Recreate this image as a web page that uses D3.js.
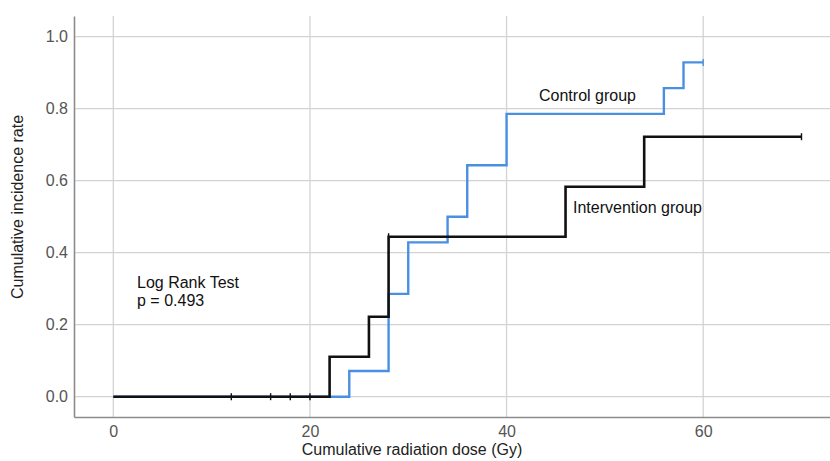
<!DOCTYPE html>
<html>
<head>
<meta charset="utf-8">
<script src="https://cdn.jsdelivr.net/npm/d3@7"></script>
<style>
  html, body { margin: 0; padding: 0; background: #fff; }
  svg { display: block; font-family: "Liberation Sans", Arial, sans-serif; }
</style>
</head>
<body>
<svg id="chart" width="830" height="461"></svg>
<script>
// ---- data ----
const xTicks = [0, 20, 40, 60];
const yTicks = [0.0, 0.2, 0.4, 0.6, 0.8, 1.0];

const controlTimes  = [0, 24, 28, 30, 34, 36, 40, 56, 58];
const controlValues = [0, 0.0714, 0.2857, 0.4286, 0.5, 0.6429, 0.7857, 0.8571, 0.9286];
const controlEnd = 60;
const controlCensored = [60];

const interventionTimes  = [0, 22, 26, 28, 46, 54];
const interventionValues = [0, 0.1111, 0.2222, 0.4444, 0.5833, 0.7222];
const interventionEnd = 70;
const interventionCensored = [12, 16, 18, 20, 28, 70];

const xTitle = "Cumulative radiation dose (Gy)";
const yTitle = "Cumulative incidence rate";
const controlLabel = "Control group";
const interventionLabel = "Intervention group";
const testLines = ["Log Rank Test", "p = 0.493"];

// ---- layout ----
const svg = d3.select("#chart");
const plotL = 74, plotR = 830, plotT = 16, plotB = 417;
const FONT = "Liberation Sans, Arial, sans-serif";

const x = d3.scaleLinear().domain([-4, 72.9]).range([plotL, plotR]);
const y = d3.scaleLinear().domain([-0.0564, 1.0575]).range([plotB, plotT]);

// gridlines
svg.append("g").selectAll("line").data(yTicks).join("line")
  .attr("x1", plotL).attr("x2", plotR)
  .attr("y1", d => y(d)).attr("y2", d => y(d))
  .attr("stroke", "#d3d3d3").attr("stroke-width", 1.3);
svg.append("g").selectAll("line").data(xTicks).join("line")
  .attr("y1", plotT).attr("y2", plotB)
  .attr("x1", d => x(d)).attr("x2", d => x(d))
  .attr("stroke", "#d3d3d3").attr("stroke-width", 1.3);

// axes
const xAxis = d3.axisBottom(x).tickValues(xTicks).tickSize(0).tickPadding(9).tickFormat(d3.format("d"));
const gx = svg.append("g").attr("transform", `translate(0,${plotB})`).call(xAxis);
gx.select(".domain").attr("stroke", "#8c8c8c").attr("stroke-width", 1.6);
gx.selectAll("text").attr("font-size", 16).attr("fill", "#555").attr("font-family", FONT);

const yAxis = d3.axisLeft(y).tickValues(yTicks).tickSize(0).tickPadding(6).tickFormat(d3.format(".1f"));
const gy = svg.append("g").attr("transform", `translate(${plotL},0)`).call(yAxis);
gy.select(".domain").attr("stroke", "#8c8c8c").attr("stroke-width", 1.6);
gy.selectAll("text").attr("font-size", 16).attr("fill", "#555").attr("font-family", FONT);

// axis titles
svg.append("text").attr("x", 412).attr("y", 455)
  .attr("text-anchor", "middle").attr("font-size", 16).attr("fill", "#222").text(xTitle);
svg.append("text").attr("transform", "translate(23,207) rotate(-90)")
  .attr("text-anchor", "middle").attr("font-size", 16).attr("fill", "#222").text(yTitle);

// step curves
function stepPoints(times, values, end) {
  const pts = times.map((t, i) => [t, values[i]]);
  pts.push([end, values[values.length - 1]]);
  return pts;
}
function valueAt(times, values, t) {
  let v = values[0];
  for (let i = 0; i < times.length; i++) if (times[i] <= t) v = values[i];
  return v;
}
const line = d3.line().x(d => x(d[0])).y(d => y(d[1])).curve(d3.curveStepAfter);

function drawCurve(times, values, end, censored, color, width) {
  svg.append("path").datum(stepPoints(times, values, end))
    .attr("d", line).attr("fill", "none")
    .attr("stroke", color).attr("stroke-width", width);
  svg.append("g").selectAll("line").data(censored).join("line")
    .attr("x1", d => x(d)).attr("x2", d => x(d))
    .attr("y1", d => y(valueAt(times, values, d)) - 3.5)
    .attr("y2", d => y(valueAt(times, values, d)) + 3.5)
    .attr("stroke", color).attr("stroke-width", 1.4);
}
drawCurve(controlTimes, controlValues, controlEnd, controlCensored, "#4a90e2", 2.4);
drawCurve(interventionTimes, interventionValues, interventionEnd, interventionCensored, "#111", 2.6);

// labels
svg.append("text").attr("x", 539).attr("y", 101).attr("font-size", 16).attr("fill", "#111").text(controlLabel);
svg.append("text").attr("x", 573).attr("y", 213).attr("font-size", 16).attr("fill", "#111").text(interventionLabel);
svg.append("text").attr("x", 137).attr("y", 288).attr("font-size", 16).attr("fill", "#111")
  .selectAll("tspan").data(testLines).join("tspan")
  .attr("x", 137).attr("dy", (d, i) => i === 0 ? 0 : 18).text(d => d);
</script>
</body>
</html>
